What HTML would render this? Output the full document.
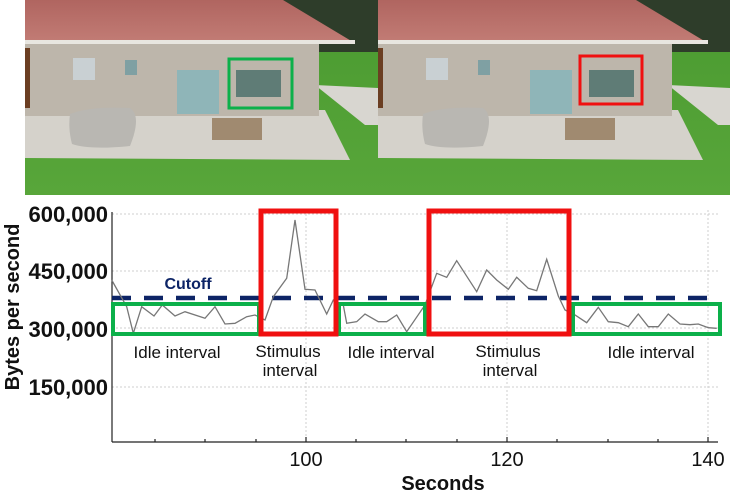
<!DOCTYPE html>
<html><head><meta charset="utf-8"><style>
html,body{margin:0;padding:0;background:#fff;width:730px;height:498px;overflow:hidden}
svg{display:block}
text{font-family:"Liberation Sans",sans-serif}
</style></head><body>
<svg width="730" height="498" viewBox="0 0 730 498" xmlns="http://www.w3.org/2000/svg">
<defs>
<linearGradient id="roof" x1="0" y1="0" x2="0" y2="1"><stop offset="0" stop-color="#b06560"/><stop offset="1" stop-color="#c27c75"/></linearGradient>
<linearGradient id="grass" x1="0" y1="0" x2="0" y2="1"><stop offset="0" stop-color="#4a9a30"/><stop offset="1" stop-color="#58a63a"/></linearGradient>
<g id="house">
  <rect x="0" y="0" width="353" height="195" fill="url(#grass)"/>
  <rect x="255" y="0" width="98" height="52" fill="#2e3d2a"/>
  <polygon points="290,85 353,88 353,125 340,125" fill="#d8d6d0"/>
  <polygon points="0,110 300,110 325,160 0,158" fill="#d5d2cb"/>
  <rect x="0" y="42" width="294" height="74" fill="#bdb6ab"/>
  <polygon points="0,0 258,0 328,42 0,42" fill="url(#roof)"/>
  <rect x="0" y="40" width="330" height="4" fill="#e8e6e0"/>
  <rect x="0" y="48" width="5" height="60" fill="#6b3e22"/>
  <rect x="48" y="58" width="22" height="22" fill="#c9d0d3"/>
  <rect x="100" y="60" width="12" height="15" fill="#7fa0a3"/>
  <rect x="152" y="70" width="42" height="44" fill="#8fb5b8"/>
  <rect x="211" y="70" width="45" height="27" fill="#5f7c76"/>
  <path d="M45 114 q20 -8 60 -6 q12 8 0 38 q-40 4 -58 -2 q-4 -15 -2 -30z" fill="#b9b7b2"/>
  <rect x="187" y="118" width="50" height="22" fill="#a08a70"/>
</g>
</defs>
<svg x="25" y="0" width="353" height="195"><use href="#house"/></svg>
<svg x="378" y="0" width="352" height="195"><use href="#house"/></svg>
<rect x="229" y="59" width="63" height="49" fill="none" stroke="#0cb04a" stroke-width="3"/>
<rect x="580" y="56" width="62" height="48" fill="none" stroke="#f01010" stroke-width="3"/>

<g stroke="#cfcfcf" stroke-width="1" stroke-dasharray="2,2">
<line x1="112" y1="214" x2="718" y2="214"/><line x1="112" y1="271" x2="718" y2="271"/>
<line x1="112" y1="328" x2="718" y2="328"/><line x1="112" y1="387" x2="718" y2="387"/>
<line x1="306" y1="210" x2="306" y2="442"/><line x1="507" y1="210" x2="507" y2="442"/><line x1="708" y1="210" x2="708" y2="442"/>
</g>
<g stroke="#222" stroke-width="1.2">
<line x1="112" y1="212" x2="112" y2="442"/><line x1="112" y1="442" x2="718" y2="442"/>
<line x1="155" y1="442" x2="155" y2="439"/><line x1="205" y1="442" x2="205" y2="439"/><line x1="256" y1="442" x2="256" y2="439"/>
<line x1="306" y1="442" x2="306" y2="437"/><line x1="356" y1="442" x2="356" y2="439"/><line x1="406" y1="442" x2="406" y2="439"/>
<line x1="457" y1="442" x2="457" y2="439"/><line x1="507" y1="442" x2="507" y2="437"/><line x1="557" y1="442" x2="557" y2="439"/>
<line x1="608" y1="442" x2="608" y2="439"/><line x1="658" y1="442" x2="658" y2="439"/><line x1="708" y1="442" x2="708" y2="437"/>
</g>
<line x1="112" y1="298" x2="718" y2="298" stroke="#0d2466" stroke-width="4.5" stroke-dasharray="19,13"/>
<polyline fill="none" stroke="#777" stroke-width="1.3" points="111.7,280 126.7,306.7 133.3,333.3 141.7,306.7 154,316 162.3,305 175,316 185,311.7 205,318.3 215,306.7 225,324 235,323.3 246.7,316.7 255,315 265,320 273.3,296.7 286.7,278.3 295,220 305,289.3 315,290 326.7,314 333.3,300 343.3,305 346.7,323.3 356.7,321.7 365,314 378.3,321.7 386.7,321.7 396.7,315 406.7,331.7 425,305 436.7,273.3 446.7,277.3 456.7,260.7 476.7,291.7 486.7,270 496.7,280 508.3,289.3 516.7,277.3 528.3,288.3 536.7,290.7 546.7,259.3 558.3,296 565,310 575,315 586.7,322.7 598.3,307.3 608.3,321.7 618.3,322.7 628.3,326.7 638.3,314 648.3,326.7 658.3,326.7 668.3,314 680,324 690,324.7 698.3,324 708.3,327.7 716.7,328.3"/>
<g fill="none" stroke-width="4">
<rect x="113" y="304" width="146" height="30" stroke="#0cb04a"/>
<rect x="339" y="304" width="86" height="30" stroke="#0cb04a"/>
<rect x="573" y="304" width="147" height="30" stroke="#0cb04a"/>
</g>
<g fill="none" stroke="#f01010" stroke-width="5">
<rect x="261" y="211" width="75" height="123"/>
<rect x="429" y="211" width="140" height="123"/>
</g>
<text x="188" y="289" font-size="16" font-weight="bold" fill="#0d2466" text-anchor="middle">Cutoff</text>
<g font-size="17" fill="#111" text-anchor="middle">
<text x="177" y="358">Idle interval</text>
<text x="288" y="357">Stimulus</text><text x="290" y="376">interval</text>
<text x="391" y="358">Idle interval</text>
<text x="508" y="357">Stimulus</text><text x="510" y="376">interval</text>
<text x="651" y="358">Idle interval</text>
</g>
<g font-size="22" font-weight="bold" fill="#111" text-anchor="end">
<text x="108" y="222">600,000</text><text x="108" y="279">450,000</text>
<text x="108" y="337">300,000</text><text x="108" y="395">150,000</text>
</g>
<g font-size="20" fill="#111" text-anchor="middle">
<text x="306" y="466">100</text><text x="507" y="466">120</text><text x="708" y="466">140</text>
<text x="443" y="490" font-weight="bold">Seconds</text>
</g>
<text transform="translate(19,307) rotate(-90)" font-size="20" font-weight="bold" fill="#111" text-anchor="middle">Bytes per second</text>
</svg>
</body></html>
